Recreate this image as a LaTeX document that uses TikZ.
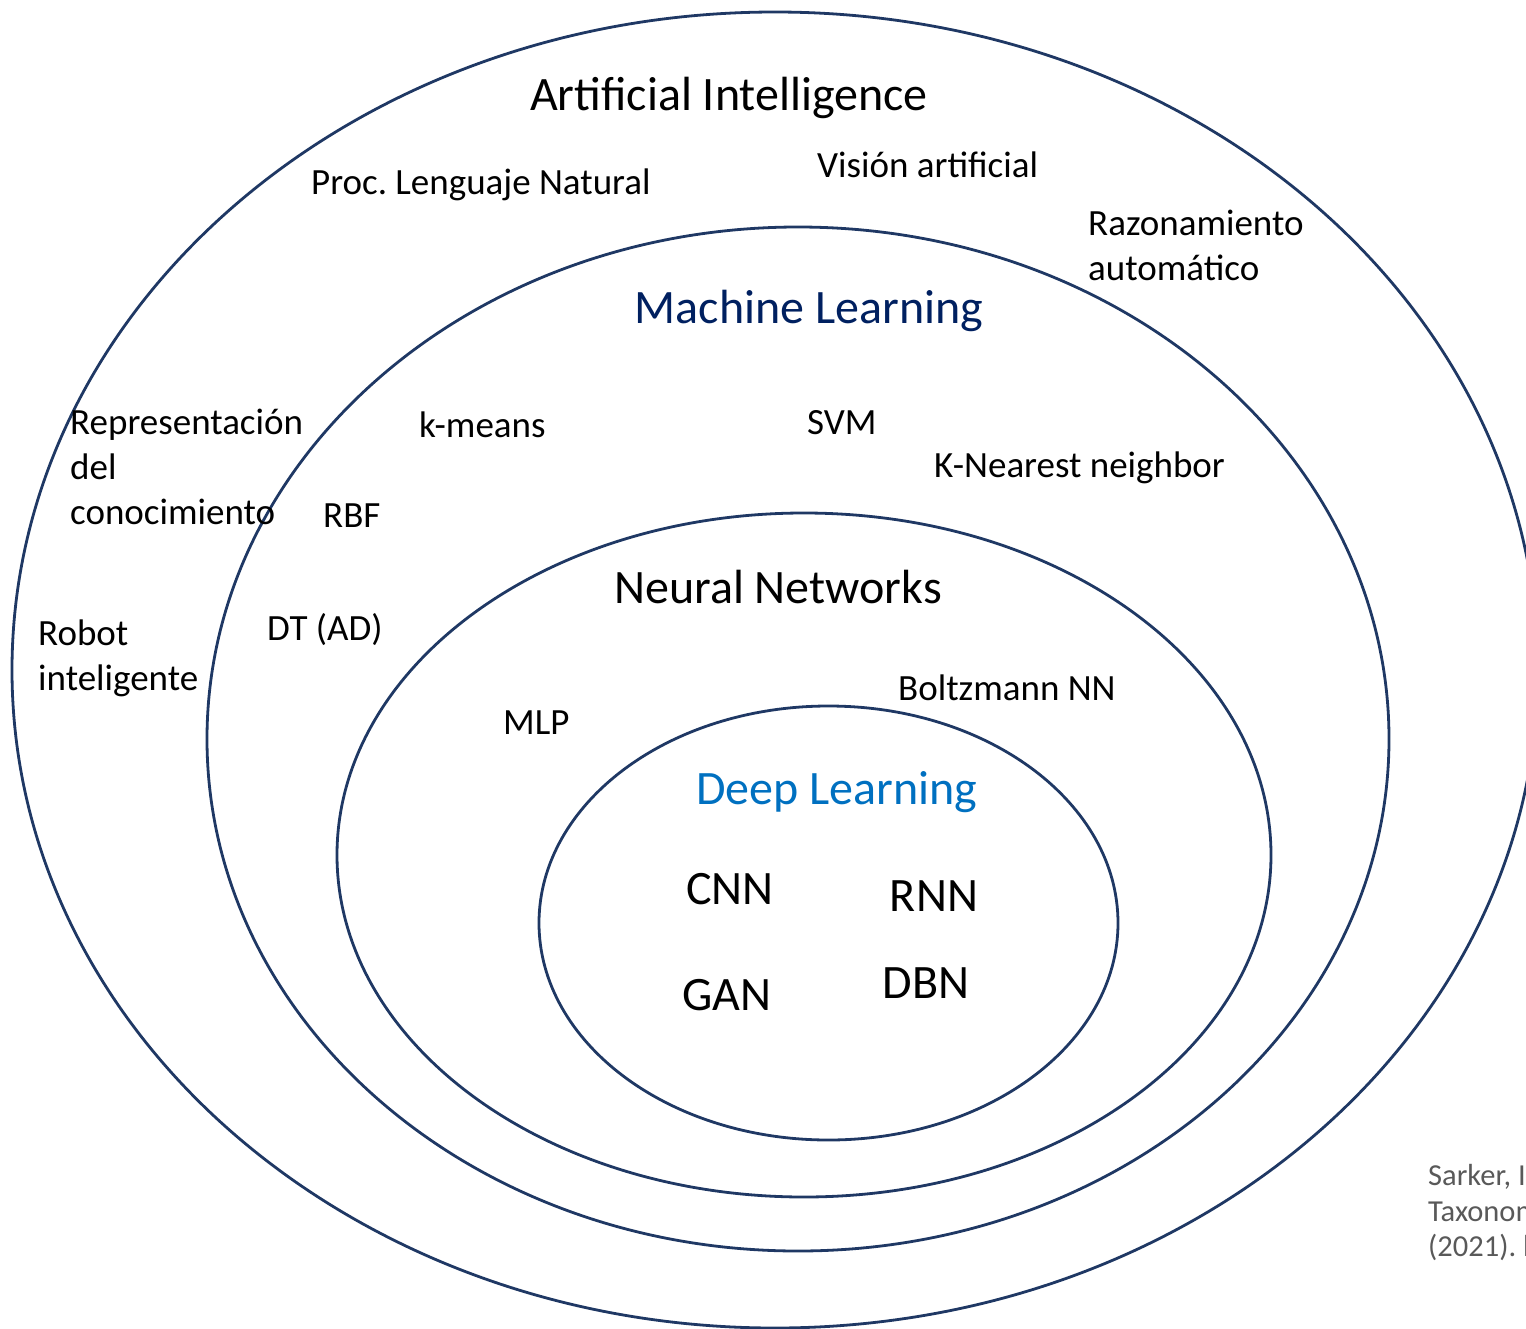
\documentclass[tikz,border=0pt]{standalone}
\usepackage{fontspec}
\setmainfont{Carlito}
\usepackage{tikz}
\usetikzlibrary{shapes.geometric}

\definecolor{navy}{HTML}{1F3864}
\definecolor{mlblue}{HTML}{002060}
\definecolor{dlblue}{HTML}{0070C0}
\definecolor{refgray}{HTML}{595959}

\begin{document}
\begin{tikzpicture}[x=1pt,y=-1pt,
  ring/.style={ellipse, draw=navy, line width=2.8pt, inner sep=0pt},
  title/.style={font=\fontsize{48}{58}\selectfont, inner sep=0pt},
  item/.style={font=\fontsize{37}{45}\selectfont, align=left, inner sep=0pt, anchor=west},
  cite/.style={font=\fontsize{30.5}{35.5}\selectfont, align=left, inner sep=0pt, anchor=west, text=refgray}]

% Picture frame, the outer ring runs off the right edge
\clip (0,0) rectangle (1526,1328);

% The nested rings
\node[ring, minimum width=1526pt, minimum height=1316pt] (ai) at (775,670) {};
\node[ring, minimum width=1182pt, minimum height=1024pt] (ml) at (798,739) {};
\node[ring, minimum width=934pt, minimum height=684pt] (nn) at (804,855) {};
\node[ring, minimum width=579pt, minimum height=434pt] (dl) at (828.5,923) {};

% Artificial Intelligence
\node[title] (aiTitle) at (729,98) {Artificial Intelligence};
\node[item] (nlp) at (311,185) {Proc.\ Lenguaje Natural};
\node[item] (vision) at (817,165) {Visión artificial};
\node[item] (reasoning) at (1088,245) {Razonamiento\\automático};
\node[item] (knowledge) at (70,467) {Representación\\del\\conocimiento};
\node[item] (robot) at (38,658) {Robot\\inteligente};

% Machine Learning
\node[title, text=mlblue] (mlTitle) at (809,311) {Machine Learning};
\node[item] (kmeans) at (419,425) {k-means};
\node[item] (svm) at (807,423) {SVM};
\node[item] (knn) at (934,468) {K-Nearest neighbor};
\node[item] (rbf) at (323,516) {RBF};
\node[item] (dt) at (267,630) {DT (AD)};

% Neural Networks
\node[title] (nnTitle) at (778,587) {Neural Networks};
\node[item] (boltzmann) at (898,688) {Boltzmann NN};
\node[item] (mlp) at (503,723) {MLP};

% Deep Learning
\node[title, text=dlblue] (dlTitle) at (837,792) {Deep Learning};
\node[title] (cnn) at (730,889) {CNN};
\node[title] (rnn) at (934,896) {RNN};
\node[title] (gan) at (727,995) {GAN};
\node[title] (dbn) at (926,983) {DBN};

% Source note, cut by the edge
\node[cite] (source) at (1428,1213) {Sarker, I.\ H.\\Taxonomy\\(2021).\ https};

\end{tikzpicture}
\end{document}
